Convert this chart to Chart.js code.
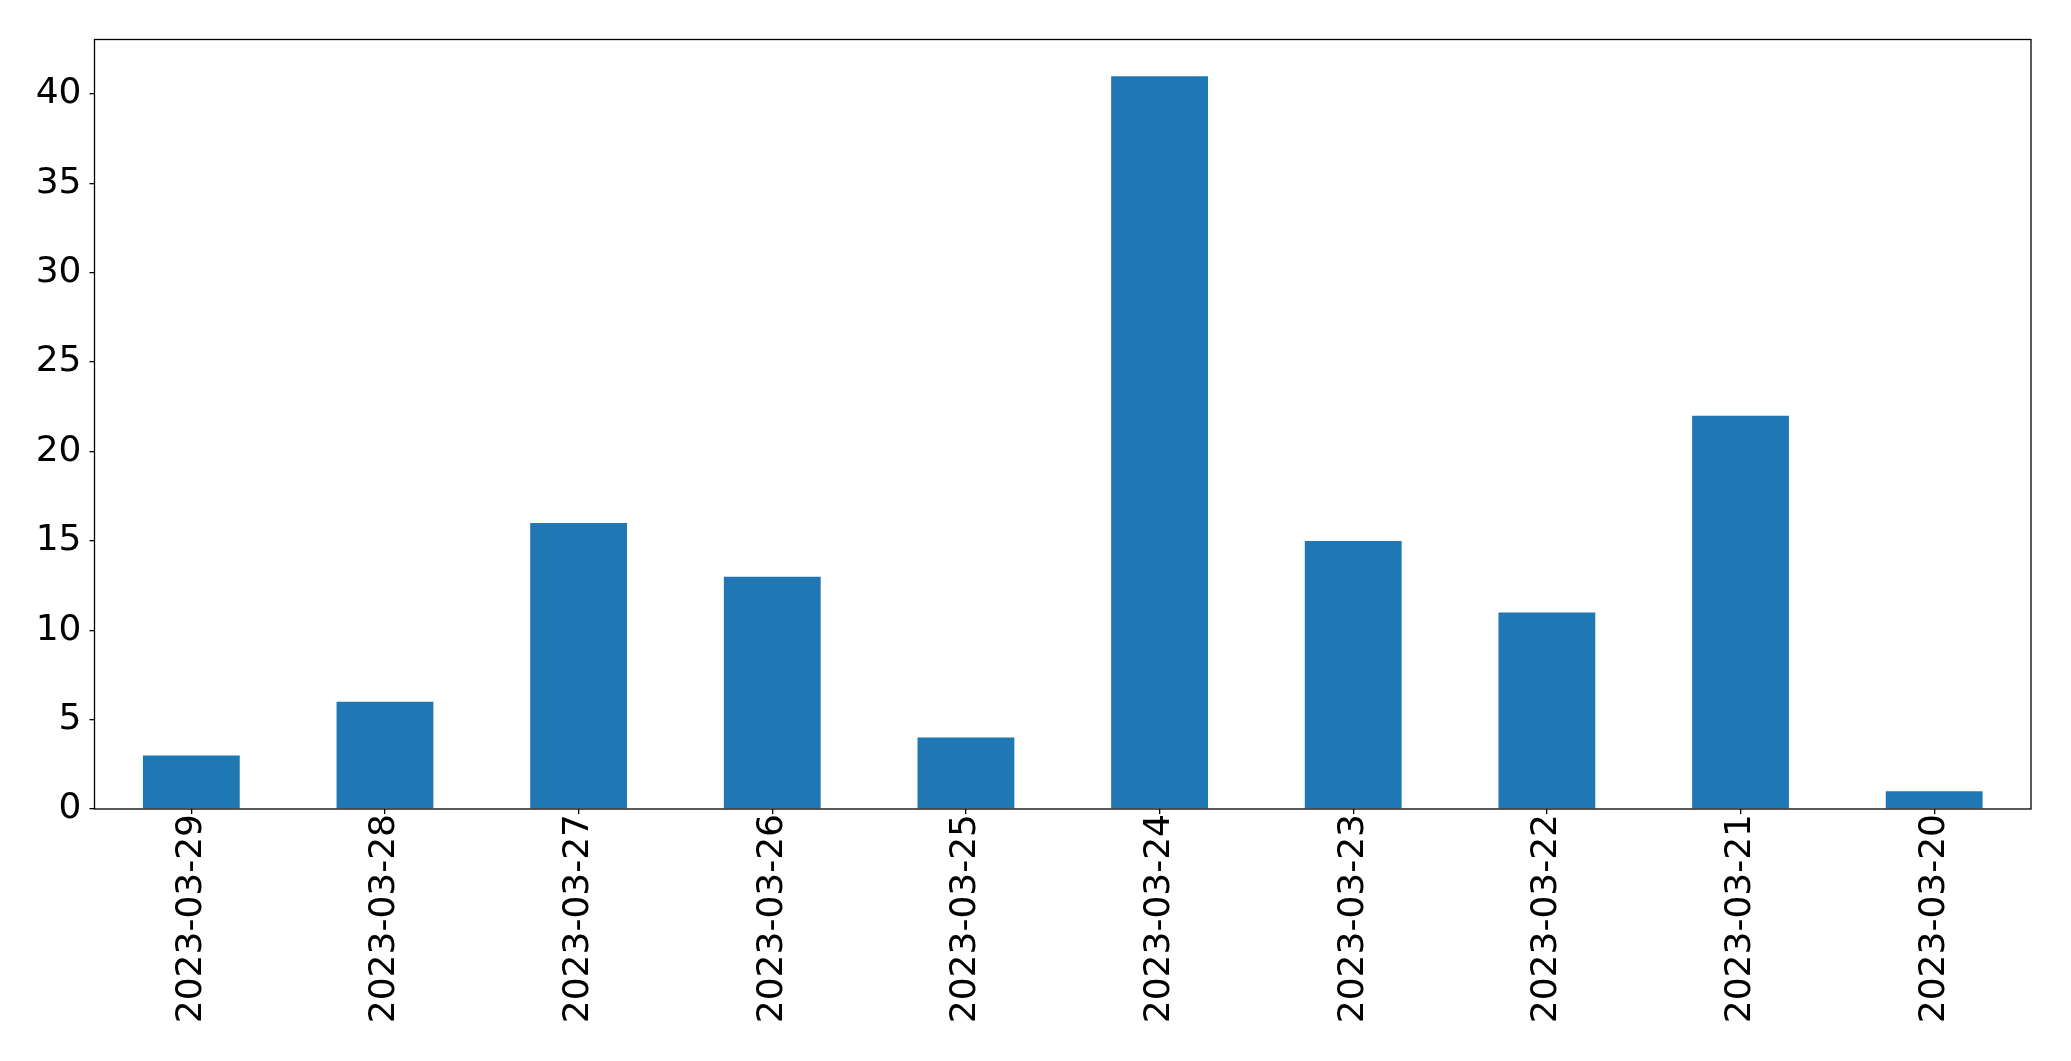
<!DOCTYPE html>
<html>
<head>
<meta charset="utf-8">
<script src="https://cdn.jsdelivr.net/npm/chart.js@4/dist/chart.umd.min.js"></script>
<style>
  html, body { margin: 0; padding: 0; background: #fff; }
  #wrap { width: 2071px; height: 1061px; }
</style>
</head>
<body>
<div id="wrap"><canvas id="chart" width="2071" height="1061"></canvas></div>
<script>
const dates = ["2023-03-29", "2023-03-28", "2023-03-27", "2023-03-26", "2023-03-25", "2023-03-24", "2023-03-23", "2023-03-22", "2023-03-21", "2023-03-20"];
const counts = [3, 6, 16, 13, 4, 41, 15, 11, 22, 1];
const yTicks = [0, 5, 10, 15, 20, 25, 30, 35, 40];

// box around the plot area, like matplotlib's spines
const frame = {
  id: "frame",
  afterDraw(chart) {
    const { ctx, chartArea: a } = chart;
    ctx.save();
    ctx.strokeStyle = "#000";
    ctx.lineWidth = 1.3;
    ctx.strokeRect(a.left, a.top, a.right - a.left, a.bottom - a.top);
    ctx.restore();
  }
};

new Chart(document.getElementById("chart"), {
  type: "bar",
  data: {
    labels: dates,
    datasets: [{ data: counts, backgroundColor: "#1f77b4", categoryPercentage: 0.5, barPercentage: 1 }]
  },
  options: {
    responsive: false,
    animation: false,
    layout: { padding: { top: 39.5, right: 40, left: 0, bottom: 0 } },
    plugins: { legend: { display: false }, tooltip: { enabled: false } },
    scales: {
      x: {
        offset: true,
        grid: { offset: false, drawOnChartArea: false, tickLength: 5, color: "#000", lineWidth: 1.3 },
        border: { display: false },
        ticks: { color: "#000", font: { family: "DejaVu Sans", size: 36 }, minRotation: 90, maxRotation: 90, padding: 0, autoSkip: false },
        afterFit(scale) { scale.height = 1061 - 809; }
      },
      y: {
        min: 0,
        max: 43.05,
        grid: { drawOnChartArea: false, tickLength: 5, color: "#000", lineWidth: 1.3 },
        border: { display: false },
        ticks: { color: "#000", font: { family: "DejaVu Sans", size: 36 }, padding: 8 },
        afterBuildTicks(scale) { scale.ticks = yTicks.map((v) => ({ value: v })); },
        afterFit(scale) { scale.width = 94.5; }
      }
    }
  },
  plugins: [frame]
});
</script>
</body>
</html>
